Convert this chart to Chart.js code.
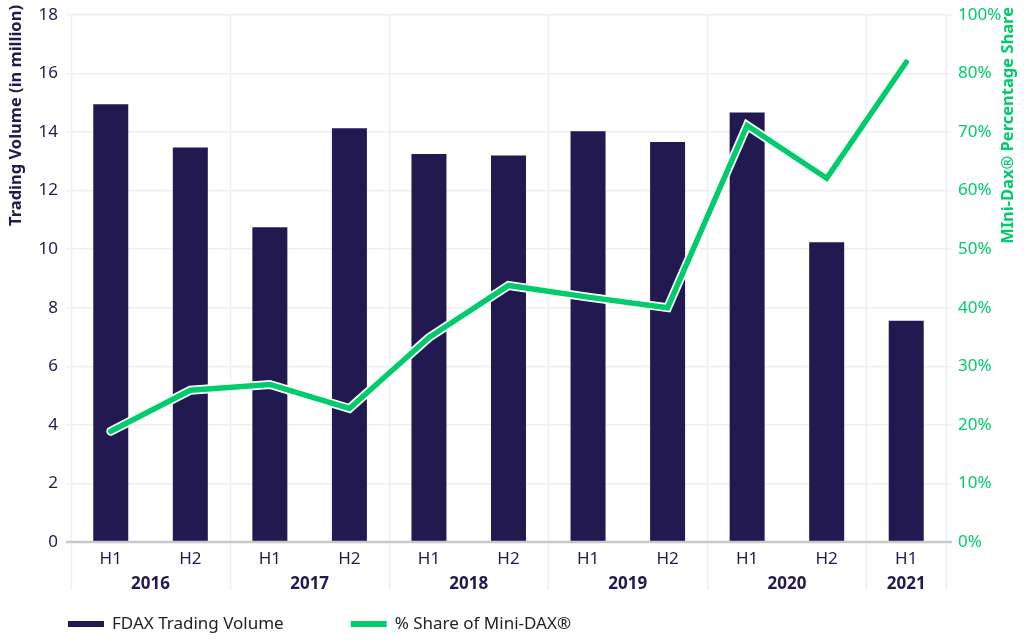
<!DOCTYPE html>
<html><head><meta charset="utf-8">
<script src="https://cdn.jsdelivr.net/npm/chart.js@4/dist/chart.umd.min.js"></script>
<style>html,body{margin:0;padding:0;background:#fff}#wrap{width:1024px;height:641px;position:relative}</style>
</head><body><div id="wrap"><canvas id="c" width="1024" height="641"></canvas></div>
<script>
const halves = ['H1','H2','H1','H2','H1','H2','H1','H2','H1','H2','H1'];
const years = ['2016','2017','2018','2019','2020','2021'];
const yearStartIndex = [0,2,4,6,8,10];
const yearSpan = [2,2,2,2,2,1];
const fdaxVolume = [14.95,13.47,10.75,14.13,13.25,13.2,14.02,13.66,14.66,10.23,7.55];
const miniDaxShare = [18.9,25.9,26.9,22.8,34.9,43.8,41.8,40.0,71.1,62.1,81.9];
const leftTickValues = [0,2,4,6,8,10,12,14,16,18];
const rightTickValues = [0,10,20,30,40,50,60,70,80,90];
const rightTickLabels = ['0%','10%','20%','30%','40%','50%','60%','70%','80%','100%'];
const seriesNames = ['FDAX Trading Volume','% Share of Mini-DAX®'];
const leftTitle = 'Trading Volume (in million)';
const rightTitle = 'MIni-Dax® Percentage Share';

const NAVY = '#211950';
const GREEN = '#00CC6C';
const GRID = '#efefef';
const FONT = "'Noto Sans', 'Open Sans', sans-serif";

const extras = {
  id: 'extras',
  beforeDatasetsDraw(chart) {
    const ctx = chart.ctx, x = chart.scales.x, area = chart.chartArea;
    ctx.save();
    ctx.strokeStyle = GRID; ctx.lineWidth = 1.5;
    const bounds = yearStartIndex.concat([halves.length]);
    bounds.forEach(b => {
      const px = Math.round(x.getPixelForValue(b - 0.5)) + 0.5;
      ctx.beginPath(); ctx.moveTo(px, area.top); ctx.lineTo(px, area.bottom + 48); ctx.stroke();
    });
    ctx.restore();
  },
  afterDraw(chart) {
    const ctx = chart.ctx, x = chart.scales.x, area = chart.chartArea;
    ctx.save();
    ctx.strokeStyle = '#c8c8c8'; ctx.lineWidth = 2.5;
    ctx.beginPath(); ctx.moveTo(area.left - 5, area.bottom); ctx.lineTo(area.right + 6, area.bottom); ctx.stroke();
    ctx.fillStyle = NAVY; ctx.font = 'bold 17px ' + FONT; ctx.textAlign = 'center'; ctx.textBaseline = 'middle';
    years.forEach((yr, i) => {
      const a = x.getPixelForValue(yearStartIndex[i]);
      const b = x.getPixelForValue(yearStartIndex[i] + yearSpan[i] - 1);
      ctx.fillText(yr, (a + b) / 2, area.bottom + 42);
    });
    ctx.font = 'bold 16.5px ' + FONT; ctx.textAlign = 'right';
    ctx.save(); ctx.translate(16, 5); ctx.rotate(-Math.PI / 2);
    ctx.fillStyle = NAVY; ctx.fillText(leftTitle, 0, 0); ctx.restore();
    ctx.save(); ctx.translate(1008, 7); ctx.rotate(-Math.PI / 2);
    ctx.fillStyle = GREEN; ctx.fillText(rightTitle, 0, 0); ctx.restore();
    ctx.font = '17px ' + FONT; ctx.textAlign = 'left'; ctx.textBaseline = 'middle';
    const colors = [NAVY, GREEN];
    let lx = 68; const ly = 624;
    seriesNames.forEach((name, i) => {
      ctx.fillStyle = colors[i];
      ctx.fillRect(lx, ly - 3, 36, 6);
      ctx.fillStyle = '#222';
      ctx.fillText(name, lx + 44, ly);
      lx += 44 + ctx.measureText(name).width + 67;
    });
    ctx.restore();
  }
};

new Chart(document.getElementById('c'), {
  data: {
    labels: halves,
    datasets: [
      { type: 'line', label: seriesNames[1], data: miniDaxShare, yAxisID: 'y1', borderColor: GREEN, borderWidth: 5.5,
        pointRadius: 0, borderCapStyle: 'round', borderJoinStyle: 'miter', tension: 0, order: 0 },
      { type: 'line', label: 'outline', data: miniDaxShare, yAxisID: 'y1', borderColor: '#ffffff', borderWidth: 9,
        pointRadius: 0, borderCapStyle: 'round', borderJoinStyle: 'miter', tension: 0, order: 1 },
      { type: 'bar', label: seriesNames[0], data: fdaxVolume, yAxisID: 'y', backgroundColor: NAVY,
        categoryPercentage: 1, barPercentage: 0.44, order: 2 }
    ]
  },
  options: {
    responsive: false, animation: false, devicePixelRatio: 1,
    layout: { padding: { top: 0, bottom: 39, left: 0, right: 0 } },
    plugins: { legend: { display: false }, tooltip: { enabled: false } },
    scales: {
      x: {
        offset: true,
        grid: { display: false, drawTicks: false },
        border: { display: false },
        ticks: { color: NAVY, font: { family: FONT, size: 17 }, padding: 7, maxRotation: 0, autoSkip: false },
        afterFit(s) { s.height = 60; }
      },
      y: {
        position: 'left', min: 0, max: 18,
        afterBuildTicks(s) { s.ticks = leftTickValues.map(v => ({ value: v })); },
        grid: { color: GRID, lineWidth: 1.5, tickLength: 5 },
        border: { display: false },
        ticks: { color: NAVY, font: { family: FONT, size: 17, lineHeight: 0.8 }, padding: 8 },
        afterFit(s) { s.width = 71; }
      },
      y1: {
        position: 'right', min: 0, max: 90,
        afterBuildTicks(s) { s.ticks = rightTickValues.map(v => ({ value: v })); },
        grid: { drawOnChartArea: false, color: GRID, lineWidth: 1.5, tickLength: 6 },
        border: { display: false },
        ticks: { color: GREEN, font: { family: FONT, size: 17, lineHeight: 0.8 }, padding: 6,
          callback: (v) => rightTickLabels[rightTickValues.indexOf(v)] },
        afterFit(s) { s.width = 78; }
      }
    }
  },
  plugins: [extras]
});
</script>
</body></html>
